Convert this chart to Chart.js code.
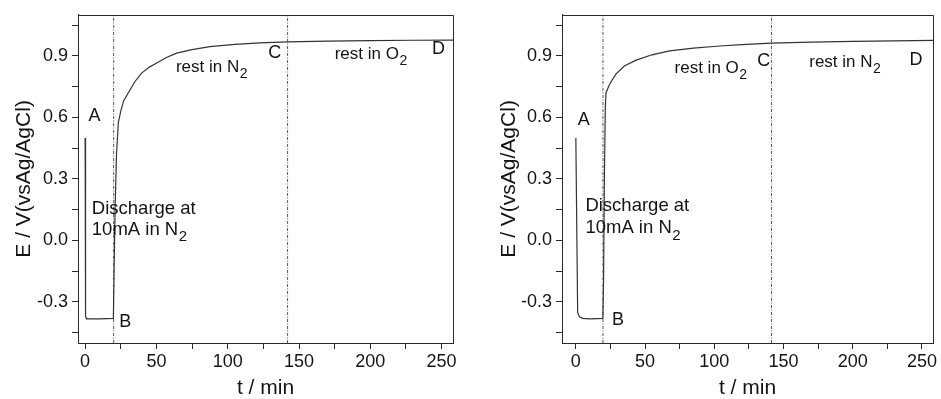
<!DOCTYPE html>
<html>
<head>
<meta charset="utf-8">
<script src="https://cdn.jsdelivr.net/npm/chart.js@4/dist/chart.umd.min.js"></script>
<style>
  html, body { margin: 0; padding: 0; background: #fff; }
  .panel { position: absolute; top: 0; }
</style>
</head>
<body>
<div class="panel" style="left:0;width:470px;height:399px"><canvas id="c1" width="470" height="399"></canvas></div>
<div class="panel" style="left:470px;width:471px;height:399px"><canvas id="c2" width="471" height="399"></canvas></div>
<script>
// ---------- data ----------
const yRange = [-0.5, 1.1];
const yTicks = [-0.45, -0.3, -0.15, 0, 0.15, 0.3, 0.45, 0.6, 0.75, 0.9, 1.05];
const yLabelEvery = 0.3;
const xTicks = [0, 25, 50, 75, 100, 125, 150, 175, 200, 225, 250];
const xLabelEvery = 50;

// Left panel
const leftXRange = [-5, 258];
const leftT = [0, 0.3, 1, 10, 19.8, 20.3, 21, 22, 23.3, 25, 27, 30.3, 35, 39.6, 45, 50.2, 57, 64.2, 75, 87.5, 105, 122.5, 142, 170, 200, 230, 260];
const leftE = [0.5, -0.37, -0.382, -0.382, -0.38, -0.15, 0.15, 0.42, 0.575, 0.63, 0.68, 0.72, 0.775, 0.816, 0.845, 0.865, 0.892, 0.913, 0.93, 0.945, 0.956, 0.963, 0.968, 0.972, 0.974, 0.976, 0.977];
const leftMarkers = [20, 142];
const leftLabels = [
  { text: 'A', sub: '', t: 2.3, E: 0.607, size: 18 },
  { text: 'B', sub: '', t: 24, E: -0.399, size: 18 },
  { text: 'C', sub: '', t: 128.4, E: 0.913, size: 18 },
  { text: 'D', sub: '', t: 243.2, E: 0.934, size: 18 },
  { text: 'rest in N', sub: '2', t: 63.7, E: 0.842, size: 17 },
  { text: 'rest in O', sub: '2', t: 175, E: 0.905, size: 17 },
  { text: 'Discharge at', sub: '', t: 4.7, E: 0.156, size: 18.5 },
  { text: '10mA in N', sub: '2', t: 4.7, E: 0.052, size: 18.5 }
];

// Right panel
const rightXRange = [-10, 258];
const rightT = [0, 1.3, 2.5, 5, 10, 19.5, 20, 20.6, 21.3, 21.8, 24, 26, 29.1, 35, 43.6, 55, 67.7, 85, 103.9, 120, 141.3, 170, 200, 230, 260];
const rightE = [0.5, -0.35, -0.372, -0.38, -0.382, -0.38, -0.2, 0.3, 0.65, 0.72, 0.755, 0.78, 0.812, 0.85, 0.879, 0.905, 0.924, 0.938, 0.948, 0.955, 0.962, 0.967, 0.970, 0.973, 0.975];
const rightMarkers = [19.6, 141.3];
const rightLabels = [
  { text: 'A', sub: '', t: 1.3, E: 0.588, size: 18 },
  { text: 'B', sub: '', t: 26.2, E: -0.389, size: 18 },
  { text: 'C', sub: '', t: 131, E: 0.876, size: 18 },
  { text: 'D', sub: '', t: 241.1, E: 0.879, size: 18 },
  { text: 'rest in O', sub: '2', t: 71.3, E: 0.84, size: 17 },
  { text: 'rest in N', sub: '2', t: 168.6, E: 0.866, size: 17 },
  { text: 'Discharge at', sub: '', t: 6.9, E: 0.168, size: 18.5 },
  { text: '10mA in N', sub: '2', t: 6.9, E: 0.059, size: 18.5 }
];

const xTitle = 't / min';
const yTitle = 'E / V(vsAg/AgCl)';

// ---------- drawing ----------
const FONT = "'Liberation Sans', Arial, sans-serif";
const TEXT = '#141414';
Chart.defaults.font.family = FONT;
Chart.defaults.color = TEXT;
const AXIS = '#2a2a2a';

const framePlugin = {
  id: 'frame',
  afterDraw(chart) {
    const { ctx, chartArea: a } = chart;
    ctx.save();
    ctx.strokeStyle = AXIS;
    ctx.lineWidth = 1;
    ctx.beginPath();
    ctx.moveTo(Math.round(a.left) + 0.5, Math.round(a.top) + 0.5);
    ctx.lineTo(Math.round(a.right) + 0.5, Math.round(a.top) + 0.5);
    ctx.lineTo(Math.round(a.right) + 0.5, Math.round(a.bottom) + 0.5);
    ctx.stroke();
    ctx.restore();
  }
};

const labelPlugin = {
  id: 'labels',
  afterDraw(chart, args, opts) {
    const { ctx, scales } = chart;
    ctx.save();
    ctx.fillStyle = TEXT;
    ctx.textBaseline = 'middle';
    ctx.textAlign = 'left';
    (opts.items || []).forEach(it => {
      const px = scales.x.getPixelForValue(it.t);
      const py = scales.y.getPixelForValue(it.E);
      ctx.font = it.size + 'px ' + FONT;
      ctx.fillText(it.text, px, py);
      if (it.sub) {
        const w = ctx.measureText(it.text).width;
        ctx.font = Math.round(it.size * 0.8) + 'px ' + FONT;
        ctx.fillText(it.sub, px + w + 0.5, py + it.size * 0.4);
      }
    });
    ctx.restore();
  }
};

function makePanel(id, T, E, markers, xRange, labels, yAxisWidth, rightPad, yTitlePad) {
  const curve = T.map((t, i) => ({ x: t, y: E[i] }));
  const datasets = [{
    data: curve,
    borderColor: '#333',
    borderWidth: 1.2,
    pointRadius: 0,
    tension: 0,
    order: 0
  }];
  markers.forEach(m => datasets.push({
    data: [{ x: m, y: yRange[0] }, { x: m, y: yRange[1] }],
    borderColor: '#555',
    borderWidth: 1,
    borderDash: [3, 1.5, 1, 1.5],
    pointRadius: 0,
    order: 1
  }));
  return new Chart(document.getElementById(id), {
    type: 'line',
    data: { datasets },
    options: {
      responsive: false,
      animation: false,
      events: [],
      layout: { padding: { left: 0, right: rightPad, top: 12, bottom: 0 } },
      plugins: { legend: { display: false }, tooltip: { enabled: false }, labels: { items: labels } },
      scales: {
        x: {
          type: 'linear',
          position: 'bottom',
          min: xRange[0], max: xRange[1],
          afterBuildTicks: s => { s.ticks = xTicks.map(v => ({ value: v })); },
          afterFit: s => { s.height = 56; },
          grid: { drawOnChartArea: false, tickLength: 6, color: AXIS, tickColor: AXIS, tickWidth: 1 },
          border: { color: AXIS, width: 1 },
          ticks: {
            autoSkip: false, maxRotation: 0, padding: 2,
            font: { size: 18 }, color: TEXT,
            callback: v => (Math.abs(v % xLabelEvery) < 1e-9 ? String(v) : '')
          },
          title: { display: true, text: xTitle, font: { size: 21, lineHeight: 1 }, color: TEXT, padding: { top: 0, bottom: 0 } }
        },
        y: {
          type: 'linear',
          position: 'left',
          min: yRange[0], max: yRange[1],
          afterBuildTicks: s => { s.ticks = yTicks.map(v => ({ value: v })); },
          afterFit: s => { s.width = yAxisWidth; },
          grid: { drawOnChartArea: false, tickLength: 6, color: AXIS, tickColor: AXIS, tickWidth: 1 },
          border: { color: AXIS, width: 1 },
          ticks: {
            autoSkip: false, padding: 4,
            font: { size: 18 }, color: TEXT,
            callback: v => {
              const k = v / yLabelEvery;
              if (Math.abs(k - Math.round(k)) > 1e-6) return '';
              const r = Math.round(k) * yLabelEvery;
              return (Math.abs(r) < 1e-9 ? 0 : r).toFixed(1);
            }
          },
          title: { display: true, text: yTitle, font: { size: 21, lineHeight: 1 }, color: TEXT, padding: { top: yTitlePad, bottom: 0 } }
        }
      }
    },
    plugins: [framePlugin, labelPlugin]
  });
}

makePanel('c1', leftT, leftE, leftMarkers, leftXRange, leftLabels, 78, 17, 14);
makePanel('c2', rightT, rightE, rightMarkers, rightXRange, rightLabels, 92, 8, 29);
</script>
</body>
</html>
